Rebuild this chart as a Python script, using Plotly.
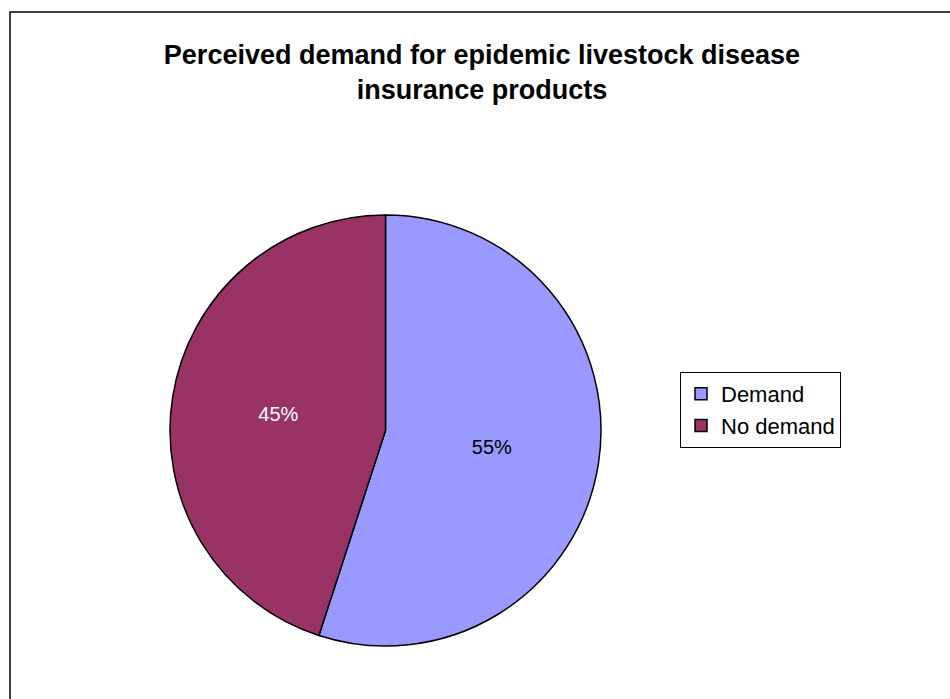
import plotly.graph_objects as go

categories = ["Demand", "No demand"]
values = [55, 45]
colors = ["#9999FF", "#993366"]
text_colors = ["#000000", "#FFFFFF"]
title_text = "Perceived demand for epidemic livestock disease<br>insurance products"

W, H = 950, 699
cx, cy, r = 385.5, 430.5, 215.5
FONT = "Liberation Sans, Arial, sans-serif"

fig = go.Figure()
fig.add_trace(go.Pie(
    labels=categories,
    values=values,
    sort=False,
    direction="clockwise",
    rotation=0,
    marker=dict(colors=colors, line=dict(color="#000000", width=1.5)),
    texttemplate="%{percent:.0%}",
    textposition="inside",
    insidetextorientation="horizontal",
    textfont=dict(family=FONT, size=20, color=text_colors),
    domain=dict(x=[(cx - r) / W, (cx + r) / W], y=[1 - (cy + r) / H, 1 - (cy - r) / H]),
    hoverinfo="label+percent",
))

fig.update_layout(
    width=W, height=H,
    margin=dict(l=0, r=0, t=0, b=0),
    paper_bgcolor="white",
    plot_bgcolor="white",
    font=dict(family=FONT, color="#000000"),
    title=dict(
        text=title_text,
        x=482 / W, xanchor="center", xref="paper",
        y=1 - 64 / H, yanchor="top", yref="container",
        font=dict(size=27, family=FONT, weight="bold", color="#000000"),
    ),
    legend=dict(
        x=680 / W, y=1 - 372 / H, xanchor="left", yanchor="top",
        bordercolor="#000000", borderwidth=1, bgcolor="white",
        font=dict(size=22, family=FONT, color="#000000"),
        itemclick=False, itemdoubleclick=False,
    ),
    showlegend=True,
    shapes=[dict(
        type="rect", xref="paper", yref="paper",
        x0=10 / W, x1=1.02, y0=-0.02, y1=1 - 12 / H,
        line=dict(color="#000000", width=1.5), fillcolor="rgba(0,0,0,0)",
    )],
)

fig.write_html(
    "out.html",
    config={"displayModeBar": False},
    post_script="document.body.style.margin='0';document.body.style.overflow='hidden';",
)
